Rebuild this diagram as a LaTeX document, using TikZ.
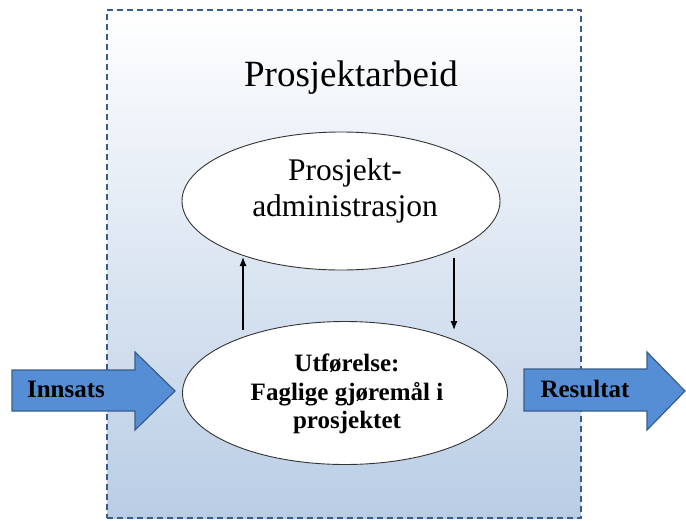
\documentclass[tikz,border=0pt]{standalone}
\usepackage{fontspec}
\setmainfont{Liberation Serif}
\usetikzlibrary{arrows.meta,shapes,backgrounds,positioning}

\definecolor{frameblue}{RGB}{56,93,138}
\definecolor{fadeblue}{RGB}{185,205,229}
\definecolor{arrowblue}{RGB}{85,142,213}

\begin{document}
\begin{tikzpicture}[x=1pt,y=-1pt,>={Latex[length=9pt,width=7pt]}]

  \tikzstyle{task}=[ellipse,draw=black!80,fill=white,line width=0.9pt,inner sep=0pt]
  \tikzstyle{flow}=[fill=arrowblue,draw=frameblue,line width=1.2pt,line join=miter]
  \tikzstyle{flow label}=[font=\fontsize{25}{28}\selectfont\bfseries,inner sep=0pt]
  \tikzstyle{link}=[->,line width=1.2pt]

  \useasboundingbox (0,0) rectangle (686,520);

  % ramme rundt prosjektarbeidet
  \node (frame) [draw=frameblue,dash pattern=on 6pt off 4pt,line width=1.4pt,
                 top color=white,bottom color=fadeblue,
                 minimum width=474pt,minimum height=508pt,inner sep=0pt] at (344,264) {};
  \node (title) [anchor=base,inner sep=0pt] at (351,86)
        {\fontsize{37}{44}\selectfont Prosjektarbeid};

  \node [task,minimum width=318pt,minimum height=138pt] (adm)  at (341,201) {};
  \node [task,minimum width=325pt,minimum height=143pt] (work) at (345,393) {};

  \node [align=center,inner sep=0pt,font=\fontsize{31.5}{36}\selectfont]
        (admtext) at (345,191) {Prosjekt-\\administrasjon};
  \node [align=center,inner sep=0pt,font=\fontsize{25}{28.5}\selectfont\bfseries]
        (worktext) at (347,394) {Utførelse:\\Faglige gjøremål i\\prosjektet};

  \coordinate (up start)   at (243,330);
  \coordinate (up end)     at (243,257);
  \coordinate (down start) at (454,258);
  \coordinate (down end)   at (454,330);
  \draw [link] (up start)   -- (up end);
  \draw [link] (down start) -- (down end);

  % inn og ut
  \draw [flow] (12,370) -- (135,370) -- (135,352) -- (175,391)
               -- (135,430) -- (135,411) -- (12,411) -- cycle;
  \draw [flow] (524,369) -- (647,369) -- (647,352) -- (685,391)
               -- (647,430) -- (647,411) -- (524,411) -- cycle;
  \node [flow label] (innsats)  at (66,389)  {Innsats};
  \node [flow label] (resultat) at (585,389) {Resultat};

\end{tikzpicture}
\end{document}
